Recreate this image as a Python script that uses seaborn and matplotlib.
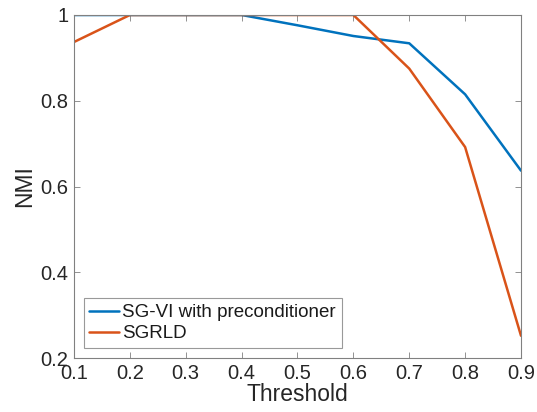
import matplotlib
matplotlib.use("Agg")
import matplotlib.pyplot as plt
import pandas as pd
import seaborn as sns

thresholds = [0.1, 0.2, 0.3, 0.4, 0.5, 0.6, 0.7, 0.8, 0.9]
sgvi_nmi = [1.0, 1.0, 1.0, 1.0, 0.976, 0.951, 0.934, 0.815, 0.637]
sgrld_nmi = [0.937, 1.0, 1.0, 1.0, 1.0, 1.0, 0.875, 0.692, 0.252]
series_names = ["SG-VI with preconditioner", "SGRLD"]

COLORS = {"SG-VI with preconditioner": (0.0, 0.447, 0.741),
          "SGRLD": (0.85, 0.325, 0.098)}

sns.set_theme(style="white")
plt.rcParams["font.family"] = ["Liberation Sans", "DejaVu Sans"]


def main():
    df = pd.DataFrame({
        "Threshold": thresholds * 2,
        "NMI": sgvi_nmi + sgrld_nmi,
        "method": [series_names[0]] * len(thresholds)
        + [series_names[1]] * len(thresholds),
    })

    fig = plt.figure(figsize=(5.37, 4.12), dpi=100)
    ax = fig.add_axes([0.1378, 0.131, 0.8324, 0.8326])
    sns.lineplot(data=df, x="Threshold", y="NMI", hue="method",
                 palette=COLORS, linewidth=1.8, ax=ax)

    # MATLAB-like aesthetics
    ax.set_xlim(0.1, 0.9)
    ax.set_ylim(0.2, 1.0)
    ax.set_xticks(thresholds)
    ax.set_xticklabels([f"{t:g}" for t in thresholds])
    ax.set_yticks([0.2, 0.4, 0.6, 0.8, 1.0])
    ax.set_yticklabels(["0.2", "0.4", "0.6", "0.8", "1"])
    ax.tick_params(direction="in", length=4, width=0.6, colors="#808080",
                   labelcolor="#262626", labelsize=14.5, top=True, right=True,
                   left=True, bottom=True, pad=4)
    for s in ax.spines.values():
        s.set_color("#808080")
        s.set_linewidth(0.8)
    ax.set_xlabel("Threshold", fontsize=16.5, color="#262626", labelpad=0)
    ax.set_ylabel("NMI", fontsize=16.5, color="#262626", labelpad=3)

    leg = ax.legend(loc="lower left", fontsize=13.5, frameon=True,
                    fancybox=False, borderpad=0.3, handlelength=1.6,
                    handletextpad=0.15, labelspacing=0.2,
                    borderaxespad=0, bbox_to_anchor=(0.022, 0.03))
    leg.get_frame().set_edgecolor("#808080")
    leg.get_frame().set_linewidth(0.8)
    for t in leg.get_texts():
        t.set_color("#1a1a1a")

    fig.savefig("out.png", dpi=100)
    plt.close(fig)


if __name__ == "__main__":
    main()
